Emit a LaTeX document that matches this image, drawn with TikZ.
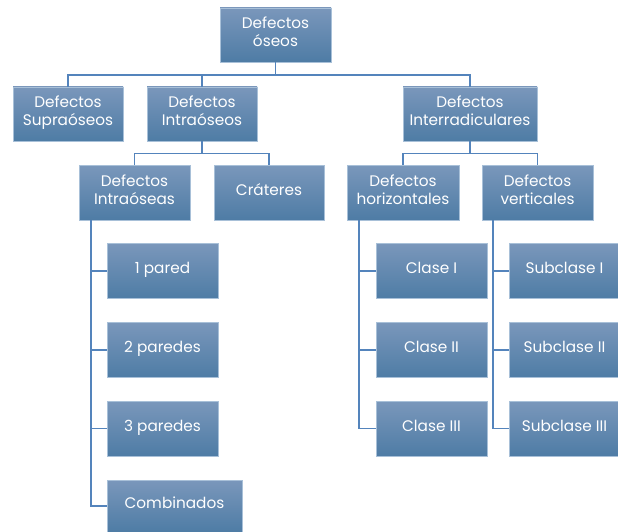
\documentclass[tikz,border=0pt]{standalone}
\usepackage{fontspec}
\setmainfont{Poppins}
\usepackage{tikz}
\usetikzlibrary{calc}
\definecolor{boxtop}{RGB}{122,151,187}
\definecolor{boxbot}{RGB}{78,124,165}
\definecolor{boxrim}{RGB}{168,192,216}
\definecolor{linkblue}{RGB}{84,132,188}
\tikzset{
  box/.style={rectangle, top color=boxtop, bottom color=boxbot, draw=boxrim,
    line width=0.6pt, text=white, align=center, inner sep=2pt,
    font=\fontsize{15.3}{18}\selectfont,
    execute at end node={\rule[-6pt]{0pt}{6pt}}},
  link/.style={draw=linkblue, line width=1.6pt},
}

\begin{document}
\begin{tikzpicture}[x=1pt, y=-1pt]
  \useasboundingbox (0,0) rectangle (618,532);
  % upper levels
  \node[box, minimum width=111pt, minimum height=54pt] (root) at (275.5,35) {Defectos\\óseos};
  \node[box, minimum width=110pt, minimum height=54pt] (supra) at (68,114) {Defectos\\Supraóseos};
  \node[box, minimum width=110pt, minimum height=54pt] (intra) at (202,114) {Defectos\\Intraóseos};
  \node[box, minimum width=134pt, minimum height=54pt] (inter) at (470,114) {Defectos\\Interradiculares};
  \node[box, minimum width=111pt, minimum height=55pt] (intraseas) at (134.5,192.5) {Defectos\\Intraóseas};
  \node[box, minimum width=110pt, minimum height=55pt] (crater) at (269,192.5) {Cráteres};
  \node[box, minimum width=112pt, minimum height=55pt] (horiz) at (403,192.5) {Defectos\\horizontales};
  \node[box, minimum width=111pt, minimum height=55pt] (vert) at (537.5,192.5) {Defectos\\verticales};
  % lists
  \foreach \name/\y/\txt in {p1/271/1 pared, p2/350/2 paredes, p3/428.5/3 paredes} {
    \node[box, minimum width=111pt, minimum height=55pt] (\name) at (162.5,\y) {\txt};
  }
  \node[box, minimum width=135pt, minimum height=52pt] (comb) at (174.5,506) {Combinados};
  \foreach \name/\y/\txt in {c1/271/Clase I, c2/350/Clase II, c3/428.5/Clase III} {
    \node[box, minimum width=111pt, minimum height=55pt] (\name) at (431.5,\y) {\txt};
  }
  \foreach \name/\y/\txt in {s1/271/Subclase I, s2/350/Subclase II, s3/428.5/Subclase III} {
    \node[box, minimum width=111pt, minimum height=55pt] (\name) at (564.5,\y) {\txt};
  }
  % connectors
  \foreach \kid in {supra, intra, inter} {
    \draw[link] (root.south) -- ++(0,12.5) -| (\kid.north);
  }
  \foreach \kid in {intraseas, crater} {
    \draw[link] (intra.south) -- ++(0,12) -| (\kid.north);
  }
  \foreach \kid in {horiz, vert} {
    \draw[link] (inter.south) -- ++(0,12) -| (\kid.north);
  }
  \foreach \kid in {p1, p2, p3, comb} {
    \draw[link] ($(intraseas.south west)+(12,0)$) |- (\kid.west);
  }
  \foreach \kid in {c1, c2, c3} {
    \draw[link] ($(horiz.south west)+(12,0)$) |- (\kid.west);
  }
  \foreach \kid in {s1, s2, s3} {
    \draw[link] ($(vert.south west)+(11,0)$) |- (\kid.west);
  }
\end{tikzpicture}
\end{document}
